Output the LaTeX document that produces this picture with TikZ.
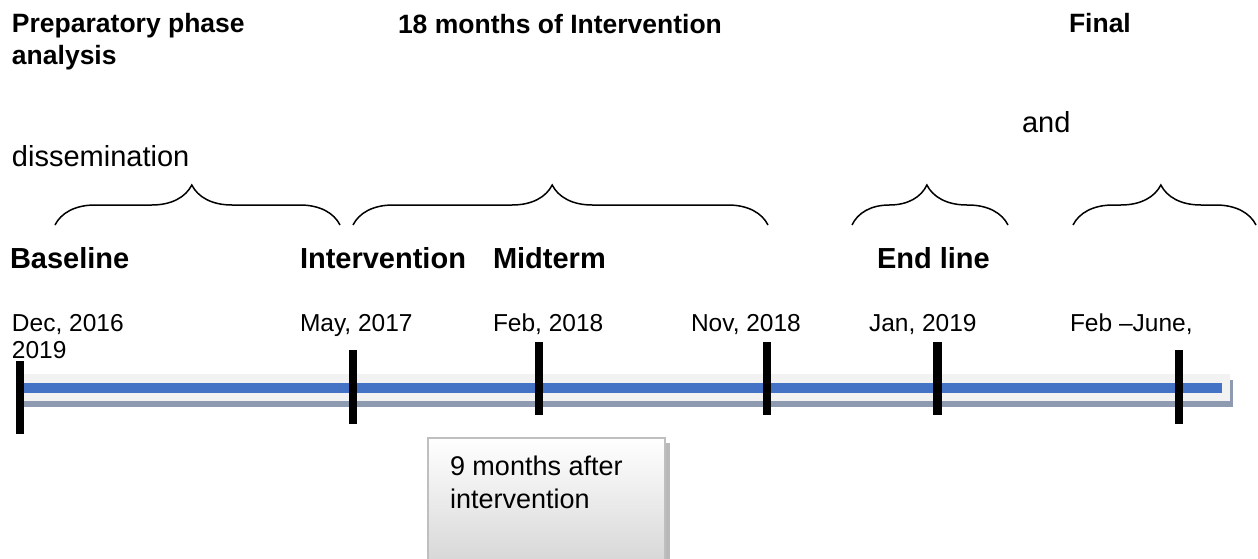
\documentclass[tikz,border=0pt]{standalone}
\usepackage{fontspec}
\setmainfont{Liberation Sans}
\usetikzlibrary{decorations.pathreplacing}
\definecolor{barblue}{HTML}{4472C4}
\definecolor{barlight}{HTML}{F2F2F2}
\definecolor{barshadow}{HTML}{8E9AAF}
\definecolor{boxborder}{HTML}{BFBFBF}
\tikzset{
  txt/.style={anchor=base west, inner sep=0pt, outer sep=0pt},
  headtxt/.style={txt, font=\fontsize{26.5}{32}\selectfont\bfseries},
  plaintxt/.style={txt, font=\fontsize{29}{34}\selectfont},
  phasetxt/.style={txt, font=\fontsize{29}{34}\selectfont\bfseries},
  datetxt/.style={txt, font=\fontsize{24.5}{28}\selectfont},
  boxtxt/.style={txt, font=\fontsize{27}{33}\selectfont},
  tick/.style={fill=black},
  bracepath/.style={decorate, decoration={brace, amplitude=40pt, aspect=0.48}, line width=1.5pt},
}
\begin{document}
\begin{tikzpicture}[x=1pt,y=-1pt]
\useasboundingbox (0,0) rectangle (1258,559);
\clip (0,0) rectangle (1258,559);

% header texts
\node[headtxt] (prep1) at (12,33) {Preparatory phase};
\node[headtxt] (prep2) at (12,65) {analysis};
\node[headtxt] (months) at (398,34) {18 months of Intervention};
\node[headtxt] (final) at (1069,33) {Final};
\node[plaintxt] (and) at (1022,133) {and};
\node[plaintxt] (dissem) at (12,166) {dissemination};

% braces
\coordinate (b1s) at (55,225); \coordinate (b1e) at (340,225);
\coordinate (b2s) at (353,225); \coordinate (b2e) at (768,225);
\coordinate (b3s) at (852,225); \coordinate (b3e) at (1008,225);
\coordinate (b4s) at (1073,225); \coordinate (b4e) at (1256,225);
\draw[bracepath] (b1s) -- (b1e);
\draw[bracepath] (b2s) -- (b2e);
\draw[bracepath] (b3s) -- (b3e);
\draw[bracepath] (b4s) -- (b4e);

% phase labels
\node[phasetxt] (baseline) at (10,268) {Baseline};
\node[phasetxt] (interv) at (300,268) {Intervention};
\node[phasetxt] (midterm) at (493,268) {Midterm};
\node[phasetxt] (endline) at (877,268) {End line};

% dates
\node[datetxt] (d1) at (12,331) {Dec, 2016};
\node[datetxt] (d1b) at (12,358) {2019};
\node[datetxt] (d2) at (300,331) {May, 2017};
\node[datetxt] (d3) at (493,331) {Feb, 2018};
\node[datetxt] (d4) at (691,331) {Nov, 2018};
\node[datetxt] (d5) at (869,331) {Jan, 2019};
\node[datetxt] (d6) at (1070,331) {Feb –June,};

% timeline bar
\fill[barshadow] (23,380) rectangle (1233,407);
\fill[barlight] (20,374) rectangle (1230,401);
\fill[barblue] (20,383) rectangle (1222,393);

% ticks
\fill[tick] (16,361) rectangle (24,434);
\fill[tick] (349,350) rectangle (357,424);
\fill[tick] (535,342) rectangle (543,415);
\fill[tick] (763,342) rectangle (771,415);
\fill[tick] (933,342) rectangle (942,415);
\fill[tick] (1175,350) rectangle (1183,424);

% box
\fill[gray!55] (433,443) rectangle (670,565);
\shade[top color=white, bottom color=black!16, draw=boxborder, line width=1.5pt] (428,438) rectangle (665,565);
\node[boxtxt] (box1) at (450,475) {9 months after};
\node[boxtxt] (box2) at (450,508) {intervention};
\end{tikzpicture}
\end{document}
